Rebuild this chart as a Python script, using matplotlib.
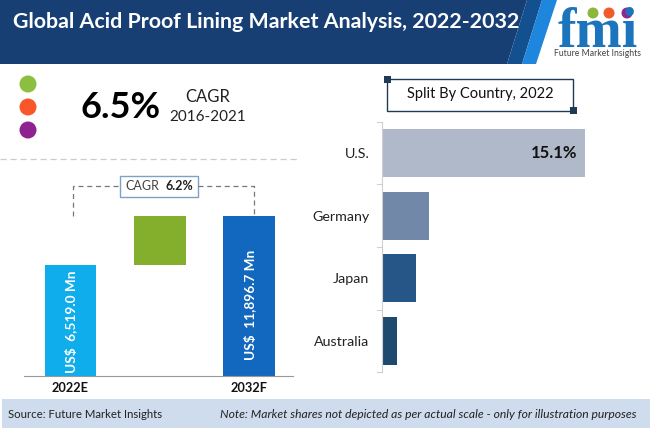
import matplotlib
matplotlib.use('Agg')
import matplotlib.pyplot as plt
from matplotlib.patches import Polygon, Rectangle, Circle

plt.rcParams['font.family'] = ['Lato', 'DejaVu Sans']

title = 'Global Acid Proof Lining Market Analysis, 2022-2032'
years = ['2022E', '', '2032F']
# bars are not to scale in the source, so these are the drawn heights
bar_bottoms = [0, 111, 0]
bar_heights = [111, 49, 160]
bar_colors = ['#10ADEC', '#84AF2C', '#1168BE']
bar_labels = ['US$  6,519.0 Mn', '', 'US$  11,896.7 Mn']

countries = ['U.S.', 'Germany', 'Japan', 'Australia']
shares = [203, 47, 34, 15]
country_colors = ['#AFB9C9', '#7188A9', '#265687', '#1F4A70']

fig = plt.figure(figsize=(6.5, 4.29), dpi=100, facecolor='white')

# page layer in pixel coordinates
bg = fig.add_axes([0, 0, 1, 1])
bg.set_xlim(0, 650)
bg.set_ylim(429, 0)
bg.axis('off')

bg.add_patch(Polygon([(0, 0), (527, 0), (507, 64), (0, 64)], color='#173F74', lw=0))
bg.add_patch(Polygon([(527, 0), (542, 0), (522, 64), (507, 64)], color='#12508F', lw=0))
bg.add_patch(Polygon([(542, 0), (557, 0), (536, 64), (522, 64)], color='#1E86DC', lw=0))
bg.text(13, 22, title, color='white', fontsize=15.4, fontweight='bold', va='center', ha='left')

# logo
bg.text(598, 47, 'fmi', color='#1C75BC', fontsize=40, fontweight='bold', family='Liberation Serif',
        ha='center', va='baseline')
for y in range(20, 48, 4):
    bg.plot([555, 642], [y, y], color='white', lw=0.6)
bg.text(597, 53, 'Future Market Insights', color='#444444', fontsize=6.2, ha='center', va='center')
for x, c in zip([593, 609, 627], ['#8CB63C', '#F15A29', '#92278F']):
    bg.add_patch(Circle((x, 13), 5.5, color=c, lw=0))

# dots and CAGR block
for y, c in zip([84, 107, 130], ['#8CBF3F', '#F9572B', '#8E2390']):
    bg.add_patch(Circle((28, y), 8.5, color=c, lw=0))
bg.text(121, 108, '6.5%', color='black', fontsize=26, fontweight='bold', ha='center', va='center')
bg.text(208, 97, 'CAGR', color='#222222', fontsize=12, ha='center', va='center')
bg.text(208, 117, '2016-2021', color='#222222', fontsize=11, ha='center', va='center')
bg.plot([0, 300], [159, 159], color='#CCCCCC', lw=0.9, ls=(0, (5, 3)))

# CAGR bracket
bg.plot([73, 73, 120], [216, 186, 186], color='#777777', lw=0.9, ls=(0, (4, 3)))
bg.plot([198, 254, 254], [186, 186, 216], color='#777777', lw=0.9, ls=(0, (4, 3)))
bg.add_patch(Rectangle((120, 176), 78, 21, fc='white', ec='#7DA0C4', lw=1))
bg.text(125, 186.5, 'CAGR', color='#444444', fontsize=9, ha='left', va='center')
bg.text(166, 186.5, '6.2%', color='#222222', fontsize=9, fontweight='bold', ha='left', va='center')

# split by country box
bg.add_patch(Rectangle((387, 79), 186, 32, fc='white', ec='#1F3A57', lw=1))
bg.add_patch(Rectangle((384, 76), 7, 7, color='#1F3A57', lw=0))
bg.add_patch(Rectangle((570, 107), 7, 7, color='#1F3A57', lw=0))
bg.text(480, 94, 'Split By Country, 2022', color='#111111', fontsize=10.5, ha='center', va='center')

# footer
bg.add_patch(Rectangle((2, 399), 648, 29, color='#CEDCEE', lw=0))
bg.text(8, 414, 'Source: Future Market Insights', color='#222222', fontsize=8.2, ha='left', va='center')
bg.text(637, 414, 'Note: Market shares not depicted as per actual scale - only for illustration purposes',
        color='#222222', fontsize=8.7, style='italic', ha='right', va='center')

# waterfall, axes span x 24-293 and y 376-200 in pixels
ax = fig.add_axes([24 / 650, (429 - 376) / 429, 269 / 650, 176 / 429])
ax.patch.set_alpha(0)
ax.bar(range(3), bar_heights, bottom=bar_bottoms, width=0.58, color=bar_colors)
ax.set_xlim(-0.52, 2.49)
ax.set_ylim(0, 176)
ax.set_yticks([])
ax.set_xticks([0, 2])
ax.set_xticklabels([years[0], years[2]], fontsize=9.2, fontweight='bold', color='#111111')
ax.tick_params(axis='x', length=0, pad=4)
for s in ['top', 'left', 'right']:
    ax.spines[s].set_visible(False)
ax.spines['bottom'].set_color('#999999')
for i, lab, y0 in zip(range(3), bar_labels, [3, 0, 16]):
    if lab:
        ax.text(i, y0, lab, rotation=90, color='white', fontsize=9.8, fontweight='bold',
                ha='center', va='bottom')

# country bars, axes span x 382-640 and y 122-372 in pixels
ax2 = fig.add_axes([382 / 650, (429 - 372) / 429, 258 / 650, 250 / 429])
ax2.patch.set_alpha(0)
ypos = range(len(countries))
ax2.barh(ypos, shares, height=0.77, color=country_colors)
ax2.set_xlim(0, 258)
ax2.set_ylim(3.5, -0.5)
ax2.set_yticks(list(ypos))
ax2.set_yticklabels(countries, fontsize=10.3, color='#222222')
ax2.tick_params(axis='y', length=0, pad=9)
ax2.set_xticks([])
for s in ['top', 'bottom', 'right']:
    ax2.spines[s].set_visible(False)
ax2.spines['left'].set_color('#D0D0D0')
for y in [-0.5, 0.5, 1.5, 2.5, 3.5]:
    ax2.plot([-5, 0], [y, y], color='#D0D0D0', lw=0.8, clip_on=False)
ax2.text(shares[0] - 8, 0, '15.1%', color='#111111', fontsize=12, fontweight='bold', ha='right', va='center')

fig.savefig('out.png', dpi=100)
